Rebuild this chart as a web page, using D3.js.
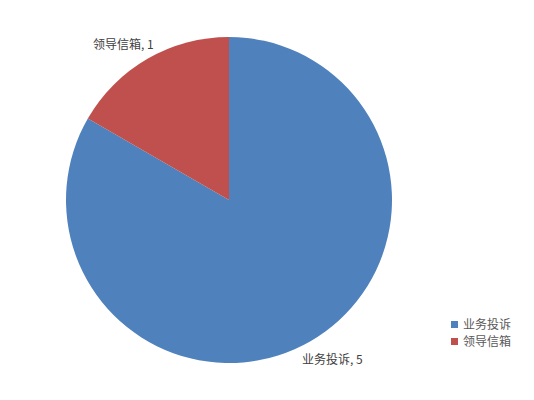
<!DOCTYPE html>
<html lang="zh">
  <head>
    <meta charset="utf-8">
    <title>pie</title>
    <style>
      body { margin: 0; background: #fff; }
      svg { display: block; font-family: "Noto Sans CJK SC", "Noto Sans", sans-serif; }
    </style>
    <script src="https://cdn.jsdelivr.net/npm/d3@7/dist/d3.min.js"></script>
  </head>
  <body>
    <svg id="chart" width="534" height="400"></svg>
    <script>
      // data
      var categories = ["业务投诉", "领导信箱"];
      var values = [5, 1];
      var colors = ["#4F81BD", "#C0504D"];

      var svg = d3.select("#chart");
      var cx = 229, cy = 200, radius = 163;

      var pie = d3.pie().sort(null).value(function(d) { return d; });
      var arcs = pie(values);
      var arc = d3.arc().innerRadius(0).outerRadius(radius);

      var g = svg.append("g").attr("transform", "translate(" + cx + "," + cy + ")");
      g.selectAll("path").data(arcs).enter().append("path")
        .attr("d", arc)
        .attr("fill", function(d, i) { return colors[i]; });

      // data labels, placed outside the slice
      var labelPos = [[73, 164], [-136, -151]];
      g.selectAll("text.lbl").data(arcs).enter().append("text")
        .attr("class", "lbl")
        .attr("x", function(d, i) { return labelPos[i][0]; })
        .attr("y", function(d, i) { return labelPos[i][1]; })
        .attr("font-size", 12)
        .attr("fill", "#404040")
        .text(function(d, i) { return categories[i] + ", " + values[i]; });

      // legend
      var legend = svg.append("g").attr("transform", "translate(451,321)");
      var items = legend.selectAll("g").data(categories).enter().append("g")
        .attr("transform", function(d, i) { return "translate(0," + (i * 17) + ")"; });
      items.append("rect").attr("width", 7).attr("height", 7)
        .attr("fill", function(d, i) { return colors[i]; });
      items.append("text").attr("x", 12).attr("y", 8)
        .attr("font-size", 12).attr("fill", "#595959")
        .text(function(d) { return d; });
    </script>
  </body>
</html>
